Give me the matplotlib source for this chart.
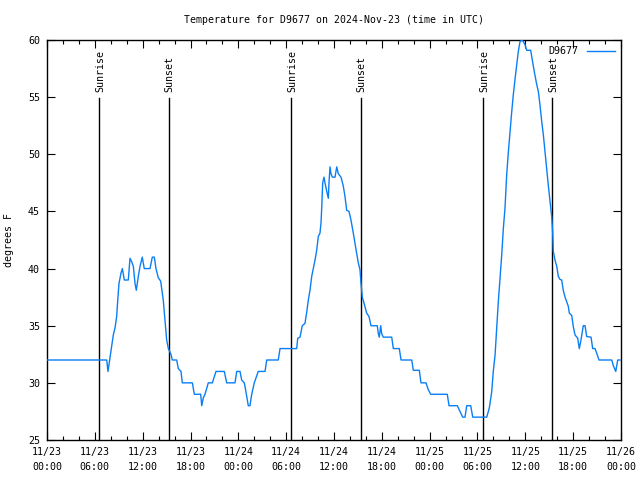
import matplotlib
matplotlib.use("Agg")
import matplotlib.pyplot as plt
from matplotlib.ticker import MultipleLocator

# Hours since 2024-11-23 00:00 UTC and temperature (F)
hours = [0.0, 7.49, 7.65, 7.9, 8.12, 8.32, 8.53, 8.74, 8.87, 9.03, 9.28, 9.45, 9.7, 10.2,
         10.41, 10.62, 10.83, 11.04, 11.2, 11.45, 11.67, 11.95, 12.2, 12.92, 13.21, 13.46,
         13.67, 13.96, 14.26, 14.59, 14.8, 15.01, 15.22, 15.55, 15.72, 16.27, 16.47, 16.81,
         16.97, 18.23, 18.48, 19.28, 19.41, 19.61, 19.82, 20.23, 20.74, 21.2, 22.24, 22.54,
         23.58, 23.8, 24.21, 24.42, 24.75, 24.96, 25.25, 25.46, 25.68, 26.0, 26.3, 26.5,
         27.35, 27.56, 29.01, 29.23, 31.32, 31.45, 31.74, 32.02, 32.36, 32.58, 32.78, 32.99,
         33.2, 33.4, 33.62, 33.83, 34.03, 34.24, 34.37, 34.46, 34.58, 34.75, 34.87, 35.09,
         35.29, 35.37, 35.5, 35.62, 35.79, 36.13, 36.34, 36.54, 36.88, 37.17, 37.38, 37.59,
         37.88, 38.13, 38.42, 38.63, 38.85, 39.05, 39.26, 39.39, 39.55, 39.76, 40.1, 40.39,
         40.64, 41.43, 41.56, 41.68, 41.86, 41.98, 42.18, 43.24, 43.44, 44.19, 44.41, 45.75,
         45.95, 46.7, 46.91, 47.54, 47.83, 48.13, 50.21, 50.43, 51.47, 51.81, 52.14, 52.43,
         52.65, 53.15, 53.4, 55.16, 55.36, 55.48, 55.78, 55.98, 56.2, 56.41, 56.61, 56.82,
         57.04, 57.24, 57.45, 57.66, 57.87, 58.08, 58.29, 58.49, 58.71, 58.92, 59.12, 59.33,
         59.55, 59.75, 59.96, 60.17, 60.67, 60.88, 61.13, 61.43, 61.63, 61.84, 62.05, 62.26,
         62.47, 62.68, 62.88, 63.1, 63.31, 63.43, 63.51, 63.72, 63.94, 64.14, 64.35, 64.56,
         64.76, 64.98, 65.19, 65.39, 65.52, 65.82, 66.02, 66.23, 66.57, 66.77, 66.98, 67.27,
         67.49, 67.7, 68.24, 68.45, 68.74, 68.95, 69.24, 70.84, 71.04, 71.34, 71.59, 71.88]
temps = [32.0, 32.0, 31.0, 32.2, 33.2, 34.2, 34.8, 35.8, 37.2, 38.7, 39.6, 40.0, 39.0, 39.0,
         40.9, 40.6, 40.2, 38.7, 38.1, 39.3, 40.2, 41.0, 40.0, 40.0, 41.0, 41.0,
         40.0, 39.2, 38.9, 37.2, 35.5, 33.75, 33.0, 32.5, 32.0, 32.0, 31.25, 31.0,
         30.0, 30.0, 29.0, 29.0, 28.0, 28.7, 29.0, 30.0, 30.0, 31.0, 31.0, 30.0,
         30.0, 31.0, 31.0, 30.25, 30.0, 29.2, 28.0, 28.0, 29.0, 30.0, 30.6, 31.0,
         31.0, 32.0, 32.0, 33.0, 33.0, 33.9, 34.0, 35.0, 35.2, 36.2, 37.25, 38.1,
         39.3, 40.0, 40.75, 41.6, 42.8, 43.1, 44.0, 45.3, 47.5, 48.0, 47.5, 46.75,
         46.15, 47.5, 48.9, 48.3, 48.0, 48.0, 48.9, 48.3, 48.0, 47.2, 46.3, 45.1,
         45.0, 44.25, 43.1, 42.2, 41.3, 40.5, 39.9, 38.7, 37.5, 37.0, 36.1, 35.8,
         35.0, 35.0, 34.3, 34.0, 35.0, 34.3, 34.0, 34.0, 33.0, 33.0, 32.0, 32.0,
         31.1, 31.1, 30.0, 30.0, 29.4, 29.0, 29.0, 28.0, 28.0, 27.5, 27.0, 27.0,
         28.0, 28.0, 27.0, 27.0, 27.5, 27.8, 29.2, 31.0, 32.4, 34.8, 37.1, 39.1,
         41.2, 43.5, 45.3, 48.2, 50.2, 52.0, 53.7, 55.2, 56.6, 57.8, 59.0, 59.85,
         60.0, 59.85, 59.6, 59.1, 59.1, 58.25, 57.2, 56.1, 55.5, 54.3, 52.9, 51.7,
         50.2, 48.8, 47.3, 45.85, 44.5, 43.2, 41.5, 40.75, 40.2, 39.3, 39.05, 39.0,
         38.1, 37.5, 37.1, 36.7, 36.1, 35.9, 34.9, 34.2, 33.9, 33.0, 33.75, 35.0,
         35.0, 34.05, 34.0, 33.0, 33.0, 32.6, 32.0, 32.0, 31.5, 31.0, 32.0, 32.0]

sun_hours = [6.56, 15.30, 30.64, 39.35, 54.73, 63.38]
sun_labels = ["Sunrise", "Sunset", "Sunrise", "Sunset", "Sunrise", "Sunset"]

xtick_labels = ["11/23\n00:00", "11/23\n06:00", "11/23\n12:00", "11/23\n18:00",
                "11/24\n00:00", "11/24\n06:00", "11/24\n12:00", "11/24\n18:00",
                "11/25\n00:00", "11/25\n06:00", "11/25\n12:00", "11/25\n18:00",
                "11/26\n00:00"]
yticks = [25, 30, 35, 40, 45, 50, 55, 60]

FONT = "DejaVu Sans Mono"
FS = 7.2
plt.rcParams['font.family'] = FONT

fig = plt.figure(figsize=(6.4, 4.8), dpi=100)
ax = fig.add_axes([47/640, 40/480, 574/640, 400/480])

for h, lab in zip(sun_hours, sun_labels):
    ax.plot([h, h], [25, 54.9], color="black", lw=1.0, zorder=2)
    ax.text(h + 0.1, 55.45, lab, rotation=90, ha="center", va="bottom",
            fontsize=FS, family=FONT)

ax.plot(hours, temps, color="#0A7FF5", lw=1.0, label="D9677", zorder=3)

ax.set_xlim(0, 72)
ax.set_ylim(25, 60)
ax.set_xticks(range(0, 73, 6))
ax.xaxis.set_minor_locator(MultipleLocator(2))
ax.set_xticklabels(xtick_labels, fontsize=FS, linespacing=1.6)
ax.set_yticks(yticks)
ax.set_yticklabels([str(v) for v in yticks], fontsize=FS)
ax.tick_params(which="both", direction="in", top=True, right=True, width=0.8)
ax.tick_params(which="major", length=6, pad=5)
ax.tick_params(which="minor", length=3)
for sp in ax.spines.values():
    sp.set_linewidth(1.0)

ax.set_ylabel("degrees F", fontsize=FS, labelpad=10)
ax.set_title("Temperature for D9677 on 2024-Nov-23 (time in UTC)", fontsize=7.1, pad=12)

leg = ax.legend(loc="upper right", frameon=False, markerfirst=False, fontsize=FS,
                handlelength=2.8, borderaxespad=0.25, handletextpad=0.8)

fig.savefig("out.png", dpi=100)
